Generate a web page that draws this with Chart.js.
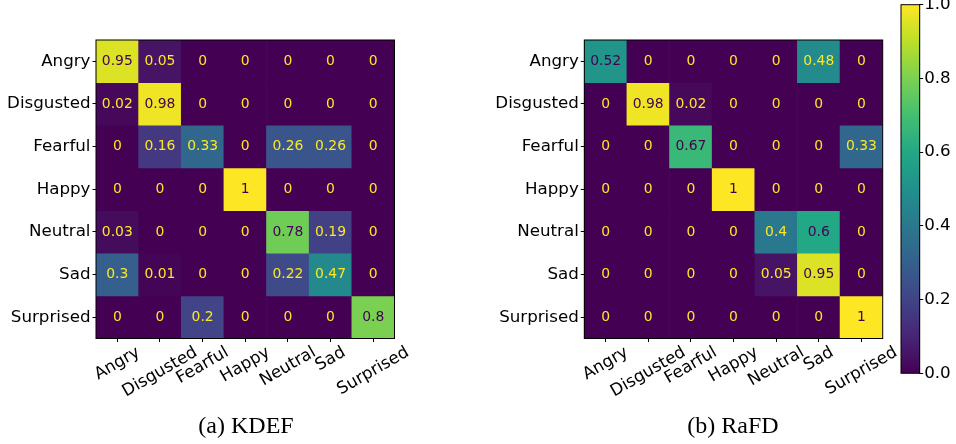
<!DOCTYPE html>
<html>
<head>
<meta charset="utf-8">
<script src="https://cdn.jsdelivr.net/npm/chart.js@4/dist/chart.umd.min.js"></script>
<style>
  html, body { margin: 0; padding: 0; background: #fff; }
  #stage { position: relative; width: 956px; height: 444px; overflow: hidden; background: #fff; }
  canvas { position: absolute; top: 0; }
  .caption { position: absolute; top: 413px; font: 24px/24px "Liberation Serif", "Times New Roman", serif; color: #000; white-space: nowrap; transform: translateX(-50%); }
</style>
</head>
<body>
<div id="stage">
  <canvas id="kdef" width="480" height="444" style="left:0px"></canvas>
  <canvas id="rafd" width="476" height="444" style="left:480px"></canvas>
  <canvas id="cbar" width="66" height="444" style="left:890px"></canvas>
  <div class="caption" style="left:246px">(a) KDEF</div>
  <div class="caption" style="left:733px">(b) RaFD</div>
</div>
<script>
// Emotion classes (rows = true label, columns = predicted label)
const emotions = ['Angry', 'Disgusted', 'Fearful', 'Happy', 'Neutral', 'Sad', 'Surprised'];

// Normalised confusion matrix, KDEF
const kdefMatrix = [
  [0.95, 0.05, 0,    0, 0,    0,    0],
  [0.02, 0.98, 0,    0, 0,    0,    0],
  [0,    0.16, 0.33, 0, 0.26, 0.26, 0],
  [0,    0,    0,    1, 0,    0,    0],
  [0.03, 0,    0,    0, 0.78, 0.19, 0],
  [0.3,  0.01, 0,    0, 0.22, 0.47, 0],
  [0,    0,    0.2,  0, 0,    0,    0.8]
];

// Normalised confusion matrix, RaFD
const rafdMatrix = [
  [0.52, 0,    0,    0, 0,    0.48, 0],
  [0,    0.98, 0.02, 0, 0,    0,    0],
  [0,    0,    0.67, 0, 0,    0,    0.33],
  [0,    0,    0,    1, 0,    0,    0],
  [0,    0,    0,    0, 0.4,  0.6,  0],
  [0,    0,    0,    0, 0.05, 0.95, 0],
  [0,    0,    0,    0, 0,    0,    1]
];

// Colour bar range and ticks
const colorbarRange = [0, 1];
const colorbarTicks = [0, 0.2, 0.4, 0.6, 0.8, 1.0];

// Viridis colour map sampled at 0, 0.1, ..., 1
const VIRIDIS = ['#440154', '#482576', '#414487', '#35608d', '#2a788e', '#21908c',
                 '#22a884', '#43bf71', '#7ad151', '#bbdf27', '#fde725'];
function hexRgb(h) { return [1, 3, 5].map(i => parseInt(h.substr(i, 2), 16)); }
const VIRIDIS_RGB = VIRIDIS.map(hexRgb);
function viridis(t) {
  t = Math.max(0, Math.min(1, t));
  const s = t * (VIRIDIS_RGB.length - 1);
  const i = Math.min(Math.floor(s), VIRIDIS_RGB.length - 2);
  const f = s - i;
  const a = VIRIDIS_RGB[i], b = VIRIDIS_RGB[i + 1];
  const c = a.map((v, k) => Math.round(v + (b[k] - v) * f));
  return `rgb(${c[0]},${c[1]},${c[2]})`;
}

const TICK_FONT = 16.7;
const CELL_FONT = 13.9;
const FAMILY = '"DejaVu Sans", "Liberation Sans", sans-serif';

// Black frame around the plot area
const framePlugin = {
  id: 'frame',
  afterDraw(chart) {
    const a = chart.chartArea, ctx = chart.ctx;
    ctx.save();
    ctx.strokeStyle = '#000';
    ctx.lineWidth = 1;
    ctx.strokeRect(a.left, a.top, a.right - a.left, a.bottom - a.top);
    ctx.restore();
  }
};

// Value written in each cell, light on dark cells and dark on light cells
const cellTextPlugin = {
  id: 'cellText',
  afterDatasetsDraw(chart) {
    const ctx = chart.ctx;
    const matrix = chart.options.plugins.cellText.matrix;
    ctx.save();
    ctx.font = `${CELL_FONT}px ${FAMILY}`;
    ctx.textAlign = 'center';
    ctx.textBaseline = 'middle';
    chart.data.datasets.forEach((ds, r) => {
      chart.getDatasetMeta(r).data.forEach((bar, c) => {
        const v = matrix[r][c];
        const p = bar.getCenterPoint();
        ctx.fillStyle = v < 0.5 ? VIRIDIS[VIRIDIS.length - 1] : VIRIDIS[0];
        ctx.fillText(String(v), p.x, p.y);
      });
    });
    ctx.restore();
  }
};

// Rotated predicted-label names under the x axis, centred on each tick
const xLabelPlugin = {
  id: 'xLabels',
  afterDraw(chart) {
    const ctx = chart.ctx, xs = chart.scales.x, a = chart.chartArea;
    const ang = Math.PI / 6;
    const top = a.bottom + 3.5 + 2;
    ctx.save();
    ctx.font = `${TICK_FONT}px ${FAMILY}`;
    ctx.fillStyle = '#000';
    ctx.textAlign = 'center';
    ctx.textBaseline = 'middle';
    xs.getLabels().forEach((lab, i) => {
      const w = ctx.measureText(lab).width;
      const h = TICK_FONT;
      const bh = w * Math.sin(ang) + h * Math.cos(ang);
      ctx.setTransform(1, 0, 0, 1, xs.getPixelForValue(i), top + bh / 2);
      ctx.rotate(-ang);
      ctx.fillText(lab, 0, 0);
    });
    ctx.restore();
  }
};

function matrixChart(canvasId, matrix, yAxisWidth, padding) {
  const datasets = matrix.map((row, r) => ({
    label: emotions[r],
    data: row.map(() => [r - 0.5, r + 0.5]),
    backgroundColor: row.map(v => viridis((v - colorbarRange[0]) / (colorbarRange[1] - colorbarRange[0]))),
    borderWidth: 0,
    barPercentage: 1,
    categoryPercentage: 1,
    grouped: false
  }));
  return new Chart(document.getElementById(canvasId), {
    type: 'bar',
    data: { labels: emotions, datasets },
    plugins: [framePlugin, cellTextPlugin, xLabelPlugin],
    options: {
      responsive: false,
      animation: false,
      devicePixelRatio: 1,
      layout: { padding },
      plugins: {
        legend: { display: false },
        tooltip: { enabled: false },
        cellText: { matrix }
      },
      scales: {
        x: {
          type: 'category',
          offset: true,
          grid: { display: true, offset: false, drawOnChartArea: false, drawTicks: true, tickLength: 3.5, color: '#000' },
          border: { display: true, color: '#000', width: 1 },
          ticks: { display: false },
          afterFit(s) { s.height = 4; s.paddingLeft = 0; s.paddingRight = 0; }
        },
        y: {
          type: 'linear',
          min: -0.5,
          max: emotions.length - 0.5,
          reverse: true,
          afterBuildTicks(s) { s.ticks = emotions.map((_, i) => ({ value: i })); },
          grid: { display: true, drawOnChartArea: false, drawTicks: true, tickLength: 3.5, color: '#000' },
          border: { display: true, color: '#000', width: 1 },
          ticks: {
            padding: 2,
            color: '#000',
            font: { family: FAMILY, size: TICK_FONT },
            callback: v => emotions[v]
          },
          afterFit(s) { s.width = yAxisWidth; s.paddingTop = 0; s.paddingBottom = 0; }
        }
      }
    }
  });
}

matrixChart('kdef', kdefMatrix, 96, { left: 0, right: 85.5, top: 40, bottom: 101.5 });
matrixChart('rafd', rafdMatrix, 104.3, { left: 0, right: 73.3, top: 40, bottom: 101.5 });

// Colour bar: one floating bar over the full range, filled with the colour map
new Chart(document.getElementById('cbar'), {
  type: 'bar',
  data: {
    labels: ['scale'],
    datasets: [{
      data: [colorbarRange],
      borderWidth: 0,
      barPercentage: 1,
      categoryPercentage: 1,
      backgroundColor(ctx) {
        const a = ctx.chart.chartArea;
        if (!a) return VIRIDIS[0];
        const g = ctx.chart.ctx.createLinearGradient(0, a.bottom, 0, a.top);
        VIRIDIS.forEach((c, i) => g.addColorStop(i / (VIRIDIS.length - 1), c));
        return g;
      }
    }]
  },
  plugins: [framePlugin],
  options: {
    responsive: false,
    animation: false,
    devicePixelRatio: 1,
    layout: { padding: { left: 11, right: 0, top: 4.7, bottom: 70.7 } },
    plugins: { legend: { display: false }, tooltip: { enabled: false } },
    scales: {
      x: { display: false },
      y: {
        position: 'right',
        min: colorbarRange[0],
        max: colorbarRange[1],
        afterBuildTicks(s) { s.ticks = colorbarTicks.map(v => ({ value: v })); },
        grid: { display: true, drawOnChartArea: false, drawTicks: true, tickLength: 3.5, color: '#000' },
        border: { display: true, color: '#000', width: 1 },
        ticks: {
          padding: 1,
          color: '#000',
          font: { family: FAMILY, size: TICK_FONT },
          callback: v => v.toFixed(1)
        },
        afterFit(s) { s.width = 36.3; s.paddingTop = 0; s.paddingBottom = 0; }
      }
    }
  }
});
</script>
</body>
</html>
